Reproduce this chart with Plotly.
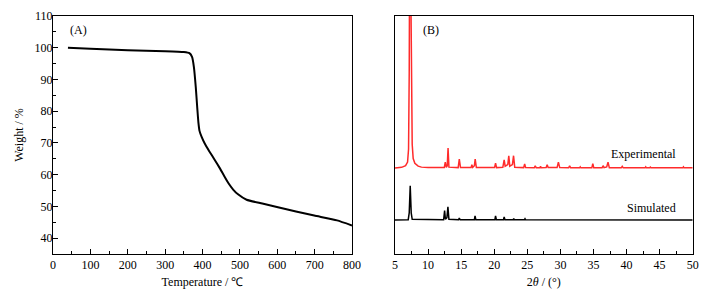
import plotly.graph_objects as go

# ---- TGA data (panel A) ----
tga_temp = [40, 100, 200, 300, 350, 365, 372, 377, 382, 386, 389, 392, 398, 406, 418, 432, 447, 458, 470, 482, 495, 518, 560, 599, 650, 699, 760, 800]
tga_weight = [100.0, 99.7, 99.2, 98.9, 98.65, 98.3, 97.1, 93.9, 87.6, 81.0, 76.5, 73.8, 71.8, 69.8, 67.4, 64.8, 61.9, 59.6, 57.2, 55.3, 53.8, 52.1, 50.9, 49.8, 48.4, 47.1, 45.6, 44.0]

# ---- XRD data (panel B), intensities above each baseline ----
exp_2theta = [5.0, 6.0, 6.6, 6.9, 7.05, 7.15, 7.25, 7.4, 7.5, 7.6, 7.75, 8.0, 8.5, 9.0, 10.0, 12.0,
              12.45, 12.6, 12.75, 12.9, 13.02, 13.15,
              14.55, 14.72, 14.9,
              16.5, 16.62, 16.75, 17.0, 17.12, 17.3,
              20.05, 20.2, 20.35,
              21.3, 21.5, 21.65, 22.05, 22.2, 22.35, 22.75, 22.92, 23.1,
              24.45, 24.6, 24.75,
              26.05, 26.2, 26.35,
              26.9, 27.0, 27.1,
              27.85, 28.0, 28.15,
              29.5, 29.7, 29.9,
              31.25, 31.4, 31.55,
              32.9, 33.0, 33.1,
              34.75, 34.9, 35.05,
              36.3, 36.45, 36.6, 37.0, 37.2, 37.4,
              39.2, 39.35, 39.5,
              41.5, 41.6, 41.7,
              42.8, 42.9, 43.0,
              43.5, 43.6, 43.7,
              45.2, 45.3, 45.4,
              48.5, 48.6, 48.7,
              50.0]
exp_int = [0.0, 0.3, 1.0, 2.5, 8, 40, 120, 120, 40, 10, 4, 2, 0.8, 0.4, 0.2, 0.1,
           0.2, 2.5, 0.3, 1.0, 8.4, 0.4,
           0.2, 3.8, 0.2,
           0.2, 1.4, 0.3, 1.0, 3.8, 0.2,
           0.2, 2.1, 0.2,
           0.3, 3.4, 0.8, 1.5, 5.2, 0.8, 1.5, 5.2, 0.3,
           0.2, 1.7, 0.2,
           0.1, 1.0, 0.1,
           0.1, 0.7, 0.1,
           0.2, 1.4, 0.2,
           0.2, 2.5, 0.2,
           0.1, 1.0, 0.1,
           0.1, 0.5, 0.1,
           0.1, 1.8, 0.1,
           0.1, 1.0, 0.2, 0.5, 2.5, 0.1,
           0.1, 0.7, 0.1,
           0.1, 0.4, 0.1,
           0.1, 0.5, 0.1,
           0.1, 0.4, 0.1,
           0.1, 0.4, 0.1,
           0.1, 0.5, 0.1,
           0.1]
exp_offset = 36.1

sim_2theta = [5.0, 7.0, 7.15, 7.3, 7.45, 7.6,
              12.35, 12.5, 12.62, 12.85, 13.0, 13.15,
              14.6, 14.72, 14.85,
              17.0, 17.1, 17.22,
              20.1, 20.2, 20.32,
              21.4, 21.5, 21.62,
              22.85, 22.95, 23.05,
              24.55, 24.65, 24.75,
              50.0]
sim_int = [0.0, 0.1, 3.0, 14.4, 3.0, 0.3,
           0.1, 3.9, 0.3, 1.0, 5.5, 0.3,
           0.1, 0.8, 0.1,
           0.1, 1.7, 0.1,
           0.1, 1.7, 0.1,
           0.1, 1.3, 0.1,
           0.05, 0.6, 0.05,
           0.05, 0.5, 0.05,
           0.0]
sim_offset = 14.3

FONT = "Liberation Serif"
FS = 12

fig = go.Figure()
fig.add_trace(go.Scatter(x=tga_temp, y=tga_weight, mode="lines", line=dict(color="black", width=2, shape="spline", smoothing=0.5),
                         xaxis="x", yaxis="y", showlegend=False, hoverinfo="skip"))
fig.add_trace(go.Scatter(x=exp_2theta, y=[v + exp_offset for v in exp_int], mode="lines",
                         line=dict(color="#ff2b2b", width=1.5), xaxis="x2", yaxis="y2", showlegend=False))
fig.add_trace(go.Scatter(x=sim_2theta, y=[v + sim_offset for v in sim_int], mode="lines",
                         line=dict(color="black", width=1.5), xaxis="x2", yaxis="y2", showlegend=False))

axis_common = dict(showline=True, linecolor="black", linewidth=1, mirror=True, ticks="inside",
                   tickcolor="black", ticklen=5, showgrid=False, zeroline=False, automargin=False,
                   tickfont=dict(family=FONT, size=FS, color="black"))

fig.update_layout(
    width=722, height=301,
    margin=dict(l=0, r=0, t=16, b=47),
    paper_bgcolor="white", plot_bgcolor="white",
    font=dict(family=FONT, color="black"),
    xaxis=dict(domain=[53/722, 352/722], range=[0, 800], dtick=100, anchor="y",
               minor=dict(ticks="inside", ticklen=3, dtick=50, tickcolor="black"),
               title=dict(text="Temperature / ℃", font=dict(family=FONT, size=FS), standoff=6),
               **axis_common),
    yaxis=dict(domain=[0, 1], range=[35, 110], dtick=10, tick0=40, anchor="x",
               minor=dict(ticks="inside", ticklen=3, dtick=5, tickcolor="black"),
               title=dict(text="Weight / %", font=dict(family=FONT, size=FS), standoff=8),
               ticklabelstandoff=-3,
               **axis_common),
    xaxis2=dict(domain=[395/722, 692.7/722], range=[5, 50], dtick=5, anchor="y2",
                minor=dict(ticks="inside", ticklen=3, dtick=2.5, tickcolor="black"),
                title=dict(text="2<i>θ</i> / (°)", font=dict(family=FONT, size=FS), standoff=6),
                **axis_common),
    yaxis2=dict(domain=[0, 1], range=[0, 100], anchor="x2", showticklabels=False, ticks="",
                showline=True, linecolor="black", linewidth=1, mirror=True, showgrid=False,
                zeroline=False, automargin=False),
    annotations=[
        dict(text="(A)", x=0.05, y=0.94, xref="x domain", yref="y domain", showarrow=False,
             xanchor="left", yanchor="middle", font=dict(family=FONT, size=FS)),
        dict(text="(B)", x=0.087, y=0.94, xref="x2 domain", yref="y2 domain", showarrow=False,
             xanchor="left", yanchor="middle", font=dict(family=FONT, size=FS)),
        dict(text="Experimental", x=47.8, y=42.0, xref="x2", yref="y2", showarrow=False,
             xanchor="right", yanchor="middle", font=dict(family=FONT, size=FS)),
        dict(text="Simulated", x=47.8, y=19.3, xref="x2", yref="y2", showarrow=False,
             xanchor="right", yanchor="middle", font=dict(family=FONT, size=FS)),
    ],
)

fig.write_html("out.html", config={"displayModeBar": False},
               post_script="document.body.style.margin='0';document.body.style.padding='0';")
